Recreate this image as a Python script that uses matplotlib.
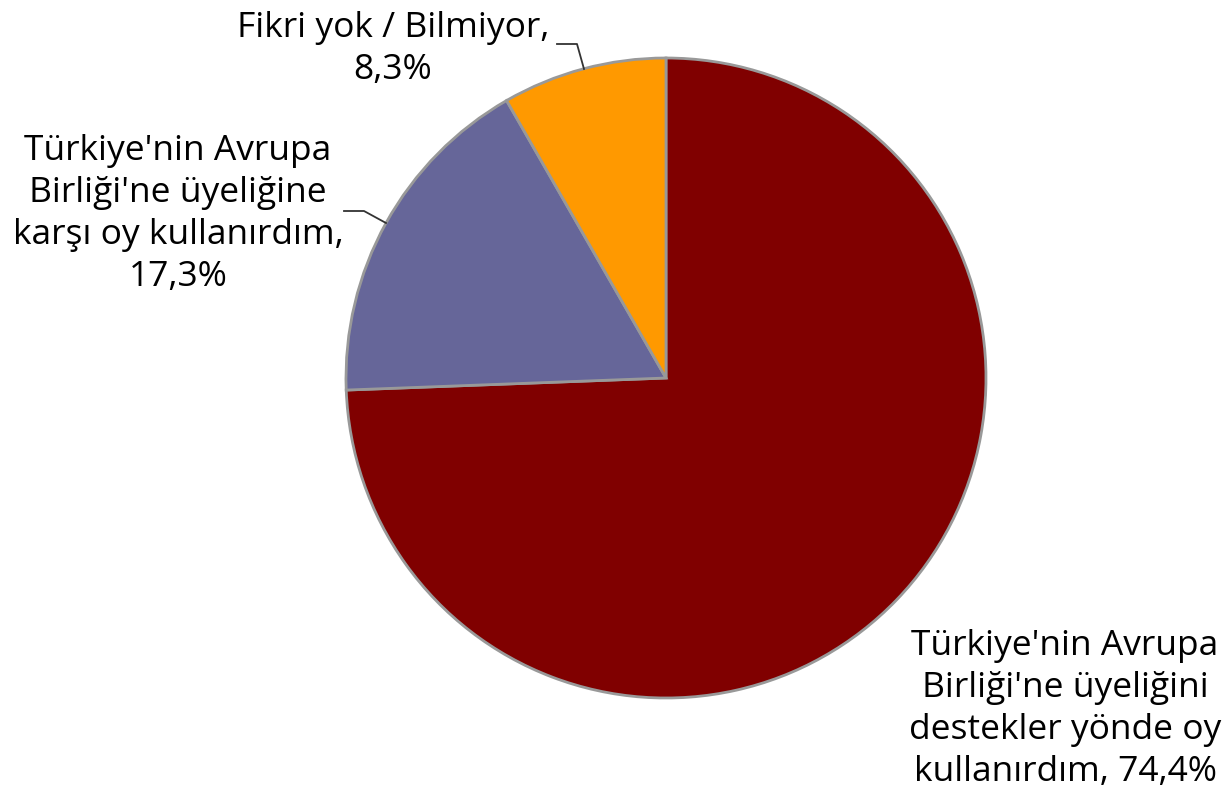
import matplotlib
matplotlib.use("Agg")
import matplotlib.pyplot as plt

labels = ["Türkiye'nin Avrupa\nBirliği'ne üyeliğini\ndestekler yönde oy\nkullanırdım, 74,4%",
          "Türkiye'nin Avrupa\nBirliği'ne üyeliğine\nkarşı oy kullanırdım,\n17,3%",
          "Fikri yok / Bilmiyor,\n8,3%"]
values = [74.4, 17.3, 8.3]
colors = ["#800000", "#666699", "#FF9900"]

W, H = 1225, 800
fig = plt.figure(figsize=(W / 100, H / 100), dpi=100)
ax = fig.add_axes([0, 0, 1, 1])
ax.set_xlim(0, W)
ax.set_ylim(0, H)
ax.axis("off")

cx, cy, r = 666, H - 378, 320
ax.pie(values, colors=colors, startangle=90, counterclock=False,
       center=(cx, cy), radius=r,
       wedgeprops=dict(edgecolor="#999999", linewidth=2))
ax.set_xlim(0, W)
ax.set_ylim(0, H)
ax.set_aspect("equal")

font = dict(family="Open Sans", fontsize=25.5, color="black", linespacing=1.3)

ax.text(1065, H - 709, labels[0], ha="center", va="center", **font)
ax.text(178, H - 214, labels[1], ha="center", va="center", **font)
ax.text(393, H - 49, labels[2], ha="center", va="center", **font)

# leader lines
ax.plot([344, 364, 386], [H - 211, H - 211, H - 223], color="#333333", lw=1.3)
ax.plot([557, 577, 584], [H - 44, H - 44, H - 69], color="#333333", lw=1.3)

fig.savefig("out.png", dpi=100)
